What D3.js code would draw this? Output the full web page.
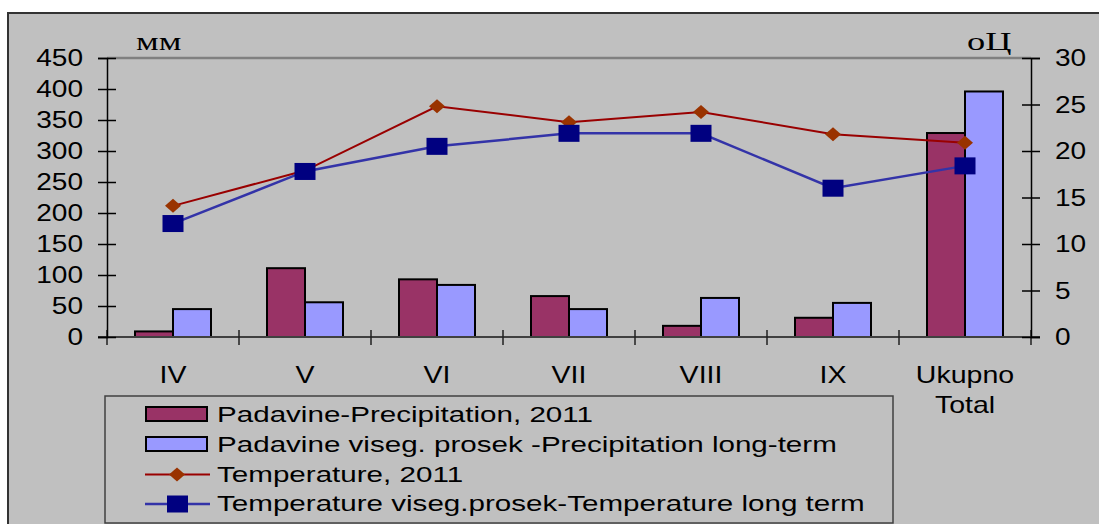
<!DOCTYPE html>
<html><head><meta charset="utf-8">
<script src="https://cdn.jsdelivr.net/npm/d3@7"></script>
<style>html,body{margin:0;padding:0;background:#fff;overflow:hidden}</style>
</head><body>
<svg id="c" width="1099" height="524"></svg>
<script>
const categories = ["IV","V","VI","VII","VIII","IX","Ukupno|Total"];
const precip2011 = [9,111,93,66,18,31,329];
const precipLongTerm = [45,56,84,45,63,55,396];
const temp2011 = [14.1,17.9,24.8,23.1,24.2,21.8,20.9];
const tempLongTerm = [12.2,17.8,20.5,21.9,21.9,16.0,18.4];
const leftTicks = [0,50,100,150,200,250,300,350,400,450];
const rightTicks = [0,5,10,15,20,25,30];
const legendLabels = ["Padavine-Precipitation, 2011","Padavine viseg. prosek -Precipitation long-term","Temperature, 2011","Temperature viseg.prosek-Temperature long term"];

const svg = d3.select("#c");
const L = 107, R = 1031, T = 58, B = 337;
const sans = "Liberation Sans, Arial, sans-serif";
const serif = "Liberation Serif, Times New Roman, serif";

function txt(g, s, x, y, size, anchor, sx, family){
  return g.append("text").attr("transform",`translate(${x},${y}) scale(${sx},1)`)
    .attr("text-anchor",anchor).attr("font-family",family||sans).attr("font-size",size)
    .attr("fill","#000").text(s);
}

// background
svg.append("rect").attr("x",8).attr("y",13).attr("width",1200).attr("height",600)
  .attr("fill","#c0c0c0").attr("stroke","#333").attr("stroke-width",2);

const x0 = d3.scaleBand().domain(categories).range([L,R]).paddingInner(0).paddingOuter(0);
const x1 = d3.scaleBand().domain(["a","b"]).range([28, x0.bandwidth()-28]);
const yL = d3.scaleLinear().domain([0,450]).range([B,T]);
const yR = d3.scaleLinear().domain([0,30]).range([B,T]);

// plot top border
svg.append("line").attr("x1",L).attr("x2",R).attr("y1",T).attr("y2",T)
  .attr("stroke","#808080").attr("stroke-width",2.5);

// bars
const barG = svg.append("g");
const series = [{k:"a",vals:precip2011,fill:"#993366"},{k:"b",vals:precipLongTerm,fill:"#9999ff"}];
series.forEach(s=>{
  barG.selectAll(null).data(categories).enter().append("rect")
    .attr("x",d=>x0(d)+x1(s.k)).attr("width",x1.bandwidth())
    .attr("y",(d,i)=>yL(s.vals[i])).attr("height",(d,i)=>B-yL(s.vals[i]))
    .attr("fill",s.fill).attr("stroke","#000").attr("stroke-width",2);
});

// x axis
const xa = svg.append("g").attr("transform",`translate(0,${B})`);
xa.append("line").attr("x1",98).attr("x2",1040).attr("y1",0).attr("y2",0).attr("stroke","#404040").attr("stroke-width",2);
const bounds = d3.range(categories.length+1).map(i=>L+i*x0.bandwidth());
xa.selectAll(null).data(bounds).enter().append("line")
  .attr("x1",d=>d).attr("x2",d=>d).attr("y1",-7).attr("y2",8).attr("stroke","#202020").attr("stroke-width",1.5);

// left axis
const la = svg.append("g").attr("transform",`translate(${L},0)`)
  .call(d3.axisLeft(yL).tickValues(leftTicks).tickSize(9).tickFormat(""));
la.select(".domain").attr("stroke","#000").attr("stroke-width",1.5);
la.selectAll(".tick line").attr("x1",-9).attr("x2",9).attr("stroke","#000").attr("stroke-width",1.5);
leftTicks.forEach(v=>txt(svg,String(v),83,yL(v)+8,23,"end",1.22));

// right axis
const ra = svg.append("g").attr("transform",`translate(${R},0)`)
  .call(d3.axisRight(yR).tickValues(rightTicks).tickSize(9).tickFormat(""));
ra.select(".domain").attr("stroke","#000").attr("stroke-width",1.5);
ra.selectAll(".tick line").attr("x1",-9).attr("x2",9).attr("stroke","#000").attr("stroke-width",1.5);
rightTicks.forEach(v=>txt(svg,String(v),1055,yR(v)+8,23,"start",1.22));

// category labels
categories.forEach(c=>{
  const parts = c.split("|");
  const cx = x0(c)+x0.bandwidth()/2;
  parts.forEach((p,j)=>txt(svg,p,cx,383+j*30,23,"middle",1.24));
});

// unit labels
txt(svg,"мм",136,50,26,"start",1.38,serif);
txt(svg,"оЦ",967,50,26,"start",1.4,serif);

// lines
const cxOf = (d)=>x0(d)+x0.bandwidth()/2;
const line2011 = d3.line().x((d,i)=>cxOf(categories[i])).y(d=>yR(d));
svg.append("path").datum(temp2011).attr("d",line2011).attr("fill","none").attr("stroke","#990000").attr("stroke-width",2);
const diamond = (cx,cy)=>`M${cx},${cy-7}L${cx+8},${cy}L${cx},${cy+7}L${cx-8},${cy}Z`;
svg.selectAll(null).data(temp2011).enter().append("path")
  .attr("d",(d,i)=>diamond(cxOf(categories[i]),yR(d))).attr("fill","#993300");

svg.append("path").datum(tempLongTerm).attr("d",line2011).attr("fill","none").attr("stroke","#3333a8").attr("stroke-width",2.5);
svg.selectAll(null).data(tempLongTerm).enter().append("rect")
  .attr("x",(d,i)=>cxOf(categories[i])-10.5).attr("y",d=>yR(d)-8.5)
  .attr("width",21).attr("height",17).attr("fill","#000080");

// legend
const lg = svg.append("g");
lg.append("rect").attr("x",105).attr("y",396).attr("width",788).attr("height",127)
  .attr("fill","#c0c0c0").attr("stroke","#404040").attr("stroke-width",1.5);
const base = [422,452,481.5,511];
lg.append("rect").attr("x",146).attr("y",base[0]-15).attr("width",61).attr("height",14).attr("fill","#993366").attr("stroke","#000").attr("stroke-width",2);
lg.append("rect").attr("x",146).attr("y",base[1]-15).attr("width",61).attr("height",14).attr("fill","#9999ff").attr("stroke","#000").attr("stroke-width",2);
lg.append("line").attr("x1",145).attr("x2",210).attr("y1",base[2]-7).attr("y2",base[2]-7).attr("stroke","#990000").attr("stroke-width",2);
lg.append("path").attr("d",diamond(177,base[2]-7)).attr("fill","#993300");
lg.append("line").attr("x1",145).attr("x2",210).attr("y1",base[3]-7).attr("y2",base[3]-7).attr("stroke","#3333a8").attr("stroke-width",2.5);
lg.append("rect").attr("x",167).attr("y",base[3]-15.5).attr("width",21).attr("height",17).attr("fill","#000080");
legendLabels.forEach((t,i)=>txt(lg,t,217,base[i],22,"start",1.345));
</script>
</body></html>
